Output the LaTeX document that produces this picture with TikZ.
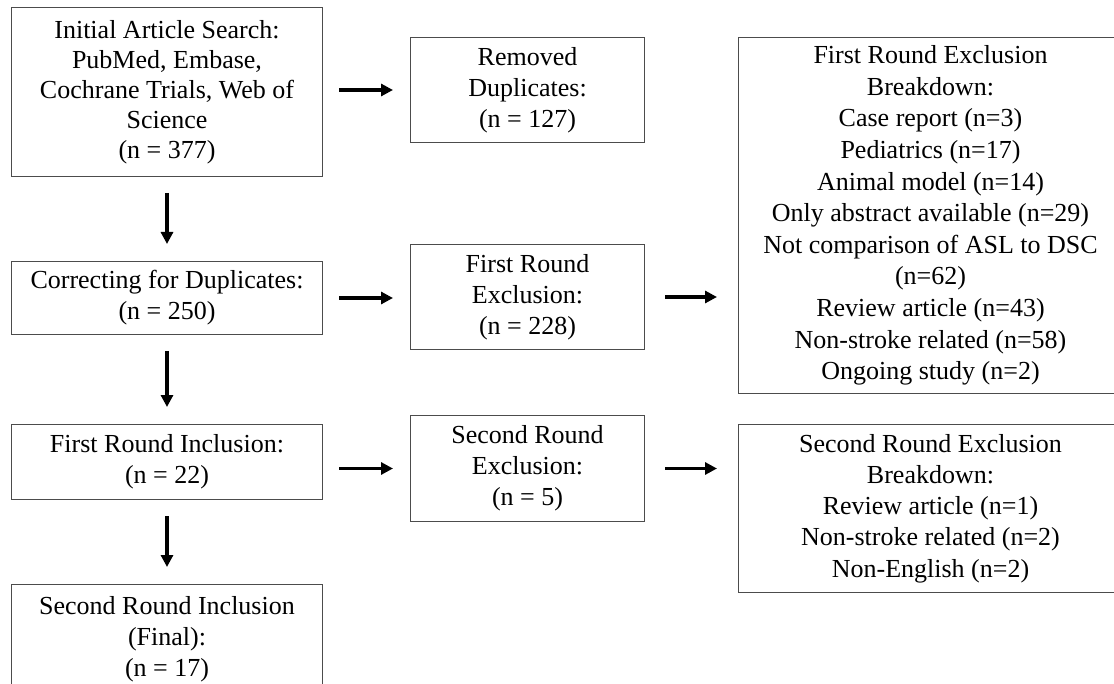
\documentclass[tikz,border=0pt]{standalone}
\usepackage{fontspec}
\setmainfont{Liberation Serif}
\usetikzlibrary{positioning,arrows.meta}

\begin{document}
\begin{tikzpicture}[node distance=42pt, >={Triangle[length=6pt,width=6pt]},
    box/.style={draw=black!70, line width=0.5pt, align=center, inner sep=3pt, font=\fontsize{13}{15.6}\selectfont},
    arr/.style={->, line width=1.6pt, shorten <=8pt, shorten >=8.5pt}]
    \useasboundingbox (-5.5pt,3.5pt) rectangle (551.5pt,-338.5pt);
    \node (A) [box, anchor=north west, minimum width=155.5pt, minimum height=84.5pt, font=\fontsize{13}{15}\selectfont] at (0,0) {Initial Article Search:\\ PubMed, Embase,\\ Cochrane Trials, Web of\\ Science\\ (n = 377)};
    \node (B) [box, below right=15pt and 43.5pt of A.north east, minimum width=117pt, minimum height=52.5pt] {Removed\\ Duplicates:\\ (n = 127)};
    \node (C) [box, below right=0pt and 46.5pt of B.north east, minimum width=192pt, minimum height=178pt, font=\fontsize{13}{15.8}\selectfont] {First Round Exclusion\\ Breakdown:\\ Case report (n=3)\\ Pediatrics (n=17)\\ Animal model (n=14)\\ Only abstract available (n=29)\\ Not comparison of ASL to DSC\\ (n=62)\\ Review article (n=43)\\ Non-stroke related (n=58)\\ Ongoing study (n=2)};
    \node (D) [box, below=of A, minimum width=155.5pt, minimum height=36.5pt] {Correcting for Duplicates:\\ (n = 250)};
    \node (E) [box, below=50.5pt of B, minimum width=117pt, minimum height=52.5pt] {First Round\\ Exclusion:\\ (n = 228)};
    \node (F) [box, below=44.5pt of D, minimum width=155.5pt, minimum height=37.5pt] {First Round Inclusion:\\ (n = 22)};
    \node (G) [box, below=32.5pt of E, minimum width=117pt, minimum height=53pt] {Second Round\\ Exclusion:\\ (n = 5)};
    \node (H) [box, below=15pt of C, minimum width=192pt, minimum height=84pt] {Second Round Exclusion\\ Breakdown:\\ Review article (n=1)\\ Non-stroke related (n=2)\\ Non-English (n=2)};
    \node (I) [box, below=of F, minimum width=155.5pt, minimum height=55pt] {Second Round Inclusion\\ (Final):\\ (n = 17)};
    \draw[arr] (A) -- (D);
    \draw[arr] (D) -- (F);
    \draw[arr] (F) -- (I);
    \draw[arr] (B.west -| A.east) -- (B.west);
    \draw[arr] (D.east) -- (D.east -| E.west);
    \draw[arr] (G.west -| F.east) -- (G.west);
    \draw[arr, shorten <=10pt, shorten >=10.5pt] (E.east) -- (E.east -| C.west);
    \draw[arr, shorten <=10pt, shorten >=10.5pt] (G.east) -- (G.east -| H.west);
\end{tikzpicture}
\end{document}
